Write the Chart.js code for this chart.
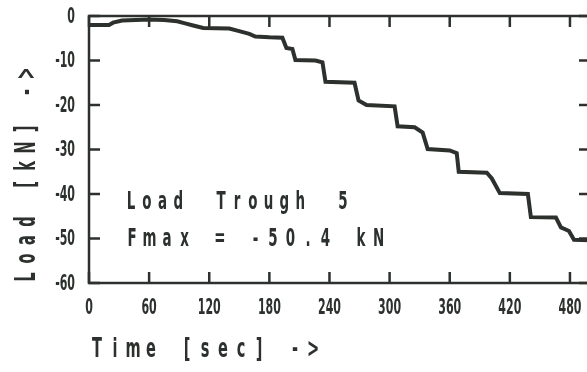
<!DOCTYPE html>
<html>
<head>
<meta charset="utf-8">
<script src="https://cdn.jsdelivr.net/npm/chart.js@4"></script>
<style>
  html, body { margin: 0; padding: 0; background: #fff; overflow: hidden; }
  #wrap { width: 600px; height: 372px; }
</style>
</head>
<body>
<div id="wrap"><canvas id="chart" width="600" height="372"></canvas></div>
<script>
// load trough 5
const timeSec = [0, 20, 24, 33, 60, 75, 88, 95, 105, 114, 140, 148, 160, 166, 180, 193, 197, 203, 206, 226, 233, 236, 265, 269, 277, 305, 308, 325, 333, 338, 360, 367, 369, 397, 402, 410, 438, 441, 466, 471, 479, 484, 500];
const loadKN  = [-2.0, -2.0, -1.5, -1.0, -0.8, -0.9, -1.2, -1.6, -2.2, -2.7, -2.8, -3.3, -4.0, -4.6, -4.8, -4.9, -7.2, -7.4, -9.9, -10.0, -10.4, -14.8, -15.0, -19.0, -20.0, -20.3, -24.8, -25.0, -26.2, -29.9, -30.2, -30.8, -35.0, -35.2, -36.5, -39.8, -40.0, -45.2, -45.3, -47.5, -48.3, -50.3, -50.4];

const xTicks = [0, 60, 120, 180, 240, 300, 360, 420, 480];
const yTicks = [0, -10, -20, -30, -40, -50, -60];

const ink = '#2c312e';

// draws each char in a fixed cell, like the plotter font
function cellText(ctx, str, x, y, pitch, spaceW, sx) {
  let cx = x;
  for (const ch of str) {
    if (ch === ' ') { cx += spaceW; continue; }
    ctx.save();
    ctx.translate(cx, y);
    ctx.scale(sx, 1);
    ctx.fillText(ch, 0, 0);
    ctx.restore();
    cx += pitch;
  }
}

const frame = {
  id: 'frame',
  beforeDatasetsDraw(chart) {
    const { ctx, chartArea: a, scales: { x, y } } = chart;
    ctx.save();
    ctx.strokeStyle = ink;
    ctx.lineWidth = 2.5;
    ctx.strokeRect(a.left, a.top, a.right - a.left, a.bottom - a.top);
    ctx.beginPath();
    xTicks.forEach(t => {
      const px = x.getPixelForValue(t);
      ctx.moveTo(px, a.top); ctx.lineTo(px, a.top + 11);
      ctx.moveTo(px, a.bottom); ctx.lineTo(px, a.bottom - 11);
    });
    yTicks.forEach(v => {
      const py = y.getPixelForValue(v);
      ctx.moveTo(a.left, py); ctx.lineTo(a.left + 11, py);
      ctx.moveTo(a.right, py); ctx.lineTo(a.right - 11, py);
    });
    ctx.stroke();
    ctx.restore();
  },
  afterDraw(chart) {
    const { ctx, chartArea: a, scales: { x, y } } = chart;
    ctx.save();
    ctx.fillStyle = ink;

    // tick labels
    ctx.font = 'bold 22px "DejaVu Sans"';
    ctx.textBaseline = 'middle';
    ctx.textAlign = 'center';
    xTicks.forEach(t => {
      ctx.save();
      ctx.translate(x.getPixelForValue(t), a.bottom + 25);
      ctx.scale(0.5, 1);
      ctx.fillText(String(t), 0, 0);
      ctx.restore();
    });
    ctx.textAlign = 'right';
    yTicks.forEach(v => {
      ctx.save();
      ctx.translate(a.left - 14, y.getPixelForValue(v) + 1);
      ctx.scale(0.5, 1);
      ctx.fillText(String(v), 0, 0);
      ctx.restore();
    });

    ctx.textAlign = 'center';
    ctx.textBaseline = 'alphabetic';

    // axis titles
    ctx.font = 'bold 26px "DejaVu Sans"';
    cellText(ctx, 'Time [sec] ->', 97, 357, 18, 18, 0.56);

    ctx.save();
    ctx.translate(35, 277);
    ctx.rotate(-Math.PI / 2);
    ctx.font = 'bold 29px "DejaVu Sans"';
    cellText(ctx, 'Load [kN] ->', 0, 0, 18.5, 18.5, 0.5);
    ctx.restore();

    // note inside the plot
    ctx.font = 'bold 24px "DejaVu Sans"';
    cellText(ctx, 'Load Trough 5', 131, 209, 15.8, 27, 0.56);
    cellText(ctx, 'Fmax = -50.4 kN', 132, 246, 17.5, 18, 0.56);
    ctx.restore();
  }
};

new Chart(document.getElementById('chart'), {
  type: 'line',
  data: {
    datasets: [{
      data: timeSec.map((t, i) => ({ x: t, y: loadKN[i] })),
      borderColor: ink,
      borderWidth: 4,
      pointRadius: 0,
      tension: 0,
      fill: false
    }]
  },
  options: {
    responsive: false,
    animation: false,
    layout: { padding: { left: 89, top: 16, right: 10, bottom: 89 } },
    scales: {
      x: { type: 'linear', min: 0, max: 500, display: false },
      y: { min: -60, max: 0, display: false }
    },
    plugins: { legend: { display: false }, tooltip: { enabled: false } }
  },
  plugins: [frame]
});
</script>
</body>
</html>
